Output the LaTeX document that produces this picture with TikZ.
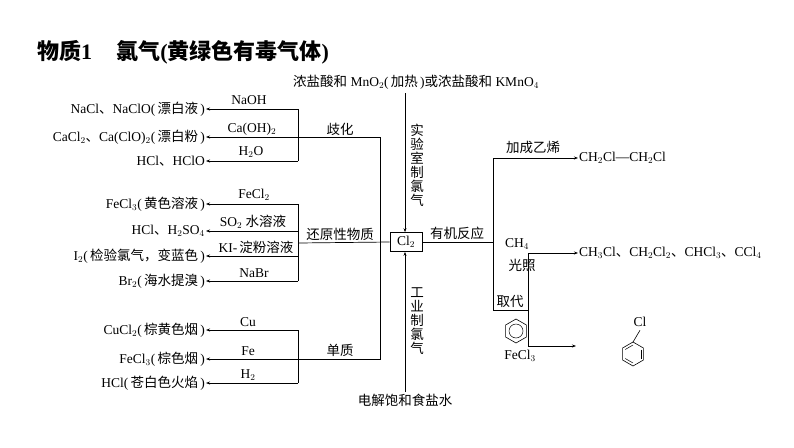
\documentclass[tikz,border=0pt]{standalone}
\usepackage{fontspec}
\setmainfont{Liberation Serif}
\newfontfamily\cjk{Noto Sans CJK SC}
\newcommand{\zh}[1]{{\cjk #1}}
\usetikzlibrary{arrows.meta,calc}
\begin{document}
\begin{tikzpicture}[x=1pt,y=-1pt,font=\fontsize{13.5}{15}\selectfont,
  ln/.style={line width=0.7pt},
  ar/.style={ln,-{Stealth[length=4pt,width=3pt]}},
  lab/.style={inner sep=1pt}]
\useasboundingbox (0,0) rectangle (794,447);
\node[anchor=west,font=\fontsize{22}{24}\selectfont\bfseries,inner sep=0pt] (title) at (37,52) {\zh{物质}1\hspace{1.1em}\zh{氯气}(\zh{黄绿色有毒气体})};
% Cl2 box
\node[draw,ln,minimum width=32pt,minimum height=19pt,inner sep=1pt] (cl) at (406,242) {Cl$_2$};
% top source
\node (top) at (416,82) {\zh{浓盐酸和} MnO$_2$(\,\zh{加热}\,)\zh{或浓盐酸和} KMnO$_4$};
\coordinate (ts) at (405,93);
\draw[ar] (ts) -- (cl.north-|ts);
\node[lab,align=center,font=\fontsize{13.5}{14}\selectfont\cjk] (lab1) at (417,165) {实\\验\\室\\制\\氯\\气};
\node (bot) at (405,400) {\zh{电解饱和食盐水}};
\coordinate (bs) at (405,392);
\draw[ar] (bs) -- (cl.south-|bs);
\node[lab,align=center,font=\fontsize{13.5}{14}\selectfont\cjk] (lab2) at (417,321) {工\\业\\制\\氯\\气};
% left trunk
\coordinate (L1) at (380,137); \coordinate (L2) at (380,359);
\coordinate (j1) at (298,137); \coordinate (j2) at (298,243); \coordinate (j3) at (298,359);
\draw[ln] (cl.west) -- (j2);
\draw[ln] (j1) -- (L1) -- (L2) -- (j3);
\node (qh) at (340,129) {\zh{歧化}};
\node (hy) at (340,234) {\zh{还原性物质}};
\node (dz) at (340,350) {\zh{单质}};
% group 1
\coordinate (a1) at (298,109); \coordinate (a3) at (298,161);
\draw[ln] (a1) -- (a3);
\node[anchor=east,inner sep=1pt] (p1) at (206,109) {NaCl\zh{、}NaClO(\,\zh{漂白液}\,)};
\node[anchor=east,inner sep=1pt] (p2) at (206,137) {CaCl$_2$\zh{、}Ca(ClO)$_2$(\,\zh{漂白粉}\,)};
\node[anchor=east,inner sep=1pt] (p3) at (206,161) {HCl\zh{、}HClO};
\draw[ar] (a1) -- (p1.east); \draw[ar] (j1) -- (p2.east); \draw[ar] (a3) -- (p3.east);
\node (r1) at (249,100) {NaOH};
\node (r2) at (252,129) {Ca(OH)$_2$};
\node (r3) at (251,152) {H$_2$O};
% group 2
\coordinate (b1) at (298,204); \coordinate (b2) at (298,231); \coordinate (b3) at (298,256); \coordinate (b4) at (298,281);
\draw[ln] (b1) -- (b4);
\node[anchor=east,inner sep=1pt] (q1) at (206,204) {FeCl$_3$(\,\zh{黄色溶液}\,)};
\node[anchor=east,inner sep=1pt] (q2) at (206,231) {HCl\zh{、}H$_2$SO$_4$};
\node[anchor=east,inner sep=1pt] (q3) at (206,256) {I$_2$(\,\zh{检验氯气，变蓝色}\,)};
\node[anchor=east,inner sep=1pt] (q4) at (206,281) {Br$_2$(\,\zh{海水提溴}\,)};
\draw[ar] (b1) -- (q1.east); \draw[ar] (b2) -- (q2.east); \draw[ar] (b3) -- (q3.east); \draw[ar] (b4) -- (q4.east);
\node (s1) at (254,195) {FeCl$_2$};
\node (s2) at (253,222) {SO$_2$ \zh{水溶液}};
\node (s3) at (256,247) {KI-\,\zh{淀粉溶液}};
\node (s4) at (254,273) {NaBr};
% group 3
\coordinate (c1) at (298,330); \coordinate (c3) at (298,383);
\draw[ln] (c1) -- (c3);
\node[anchor=east,inner sep=1pt] (t1) at (206,330) {CuCl$_2$(\,\zh{棕黄色烟}\,)};
\node[anchor=east,inner sep=1pt] (t2) at (206,359) {FeCl$_3$(\,\zh{棕色烟}\,)};
\node[anchor=east,inner sep=1pt] (t3) at (206,383) {HCl(\,\zh{苍白色火焰}\,)};
\draw[ar] (c1) -- (t1.east); \draw[ar] (j3) -- (t2.east); \draw[ar] (c3) -- (t3.east);
\node (u1) at (248,322) {Cu};
\node (u2) at (248,351) {Fe};
\node (u3) at (248,375) {H$_2$};
% right side
\coordinate (R0) at (493,242); \coordinate (R1) at (493,158); \coordinate (R2) at (493,310);
\coordinate (S0) at (528,310); \coordinate (S1) at (528,253); \coordinate (S2) at (528,346);
\draw[ln] (cl.east) -- (R0);
\draw[ln] (R1) -- (R2) -- (S0);
\draw[ln] (S1) -- (S2);
\node (yj) at (457,233) {\zh{有机反应}};
\node (jc) at (533,147) {\zh{加成乙烯}};
\node (qd) at (510,301) {\zh{取代}};
\node[anchor=west,inner sep=1pt] (e1) at (578,158) {CH$_2$Cl—CH$_2$Cl};
\node[anchor=west,inner sep=1pt] (e2) at (578,253) {CH$_3$Cl\zh{、}CH$_2$Cl$_2$\zh{、}CHCl$_3$\zh{、}CCl$_4$};
\coordinate (e3) at (576,346);
\draw[ar] (R1) -- (e1.west);
\draw[ar] (S1) -- (e2.west);
\draw[ar] (S2) -- (e3);
\node (ch4) at (517,244) {CH$_4$};
\node (gz) at (522,265) {\zh{光照}};
\node (fe) at (520,356) {FeCl$_3$};
% benzene
\coordinate (bz) at (516,331);
\draw[line width=0.6pt] (bz) +(90:12) -- +(30:12) -- +(-30:12) -- +(-90:12) -- +(-150:12) -- +(150:12) -- cycle;
\draw[line width=0.5pt] (bz) circle (7);
% chlorobenzene
\coordinate (cb) at (633,354);
\draw[line width=0.6pt] (cb) +(90:12) -- +(30:12) -- +(-30:12) -- +(-90:12) -- +(-150:12) -- +(150:12) -- cycle;
\draw[line width=0.5pt] ($(cb)+(-30:9)$) -- ($(cb)+(30:9)$);
\draw[line width=0.5pt] ($(cb)+(90:9)$) -- ($(cb)+(150:9)$);
\draw[line width=0.5pt] ($(cb)+(-90:9)$) -- ($(cb)+(-150:9)$);
\node (clt) at (640,322) {Cl};
\draw[line width=0.6pt] ($(cb)+(0,-12)$) -- (clt.south);
\end{tikzpicture}
\end{document}
